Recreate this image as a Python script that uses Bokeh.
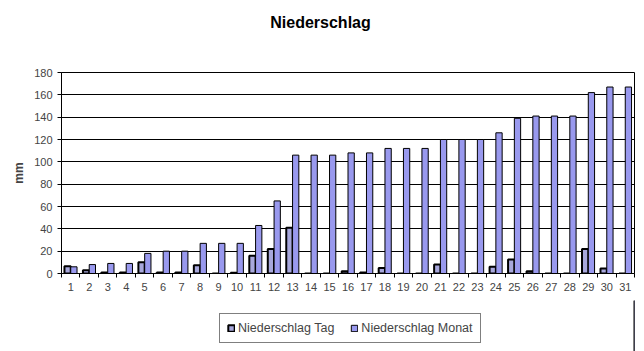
from bokeh.plotting import figure
from bokeh.models import (Range1d, FixedTicker, Legend, LegendItem, Label,
                          ColumnDataSource)
from bokeh.layouts import column
from bokeh.embed import file_html
from bokeh.resources import INLINE

days = list(range(1, 32))
tag = [6.5, 3, 1, 1, 10, 1, 1, 7.5, 0, 0.7, 16, 22, 41, 0, 0, 2, 1, 5, 0, 0,
       8, 0, 0, 6, 12.5, 2, 0, 0, 22, 4.5, 0]
monat = [6, 8, 9, 9, 18, 20, 20, 27, 27, 27, 43, 65, 106, 106, 106, 108, 108,
         112, 112, 112, 120, 120, 120, 126, 139, 141, 141, 141, 162, 167, 167]
y_ticks = [0, 20, 40, 60, 80, 100, 120, 140, 160, 180]
title_text = "Niederschlag"
y_label = "mm"
series_names = ["Niederschlag Tag", "Niederschlag Monat"]

FONT = "Liberation Sans"
W = 0.34
TAG_STYLE = dict(fill_color="#a8a8dc", line_color="black", line_width=2)
MON_STYLE = dict(fill_color="#9999ee", line_color="black", line_width=1)


def strip(h):
    f = figure(width=644, height=h, output_backend="svg", toolbar_location=None,
               x_range=Range1d(0, 1), y_range=Range1d(0, 1),
               x_axis_type=None, y_axis_type=None,
               min_border_left=61, min_border_right=10, min_border_top=0,
               min_border_bottom=0)
    f.outline_line_color = None
    f.xgrid.visible = False
    f.ygrid.visible = False
    return f


# title strip
t = strip(40)
t.add_layout(Label(x=259, y=18, x_units="screen", y_units="screen",
                   text=title_text, text_align="center", text_baseline="middle",
                   text_font=FONT, text_font_style="bold",
                   text_font_size="16px", text_color="black"))

src = ColumnDataSource(dict(
    xt=[d - W / 2 for d in days],
    xm=[d + W / 2 for d in days],
    tag=tag, monat=monat))

p = figure(width=644, height=260, output_backend="svg", toolbar_location=None,
           x_range=Range1d(0.5, 31.5), y_range=Range1d(0, 180),
           min_border_left=61, min_border_right=10, min_border_top=32,
           min_border_bottom=27)
p.outline_line_color = "black"
p.outline_line_width = 1
p.background_fill_color = "white"
p.border_fill_color = "white"

p.vbar(x="xt", top="tag", width=W, source=src, **TAG_STYLE)
p.vbar(x="xm", top="monat", width=W, source=src, **MON_STYLE)

p.xgrid.visible = False
p.ygrid.grid_line_color = "black"
p.ygrid.grid_line_width = 1
p.ygrid.ticker = FixedTicker(ticks=y_ticks)

p.xaxis.ticker = FixedTicker(ticks=days, minor_ticks=[d + 0.5 for d in range(0, 32)])
p.xaxis.major_tick_line_alpha = 0
p.xaxis.minor_tick_out = 4
p.xaxis.minor_tick_in = 0
p.xaxis.minor_tick_line_color = "black"
p.xaxis.axis_line_color = "black"
p.xaxis.major_label_text_font = FONT
p.xaxis.major_label_text_font_size = "11px"
p.xaxis.major_label_standoff = 3

p.yaxis.ticker = FixedTicker(ticks=y_ticks)
p.yaxis.minor_tick_line_alpha = 0
p.yaxis.major_tick_out = 4
p.yaxis.major_tick_in = 0
p.yaxis.major_tick_line_color = "black"
p.yaxis.axis_line_color = "black"
p.yaxis.major_label_text_font = FONT
p.yaxis.major_label_text_font_size = "11px"
p.yaxis.axis_label = y_label
p.yaxis.axis_label_text_font = FONT
p.yaxis.axis_label_text_font_style = "bold"
p.yaxis.axis_label_text_font_size = "12px"
p.yaxis.axis_label_standoff = 5

# legend strip
q = strip(51)
dummy = ColumnDataSource(dict(x=[5], top=[5]))
lt = q.vbar(x="x", top="top", width=0.1, source=dummy, **TAG_STYLE)
lm = q.vbar(x="x", top="top", width=0.1, source=dummy, **MON_STYLE)

legend = Legend(items=[LegendItem(label=series_names[0], renderers=[lt]),
                       LegendItem(label=series_names[1], renderers=[lm])],
                orientation="horizontal", location=(158, 8),
                border_line_color="black", border_line_width=1,
                label_text_font=FONT, label_text_font_size="12.5px",
                glyph_width=8, glyph_height=8, label_standoff=3, spacing=16,
                padding=7, margin=0, background_fill_alpha=1)
q.add_layout(legend, "center")

layout = column(t, p, q, spacing=0)
open("out.html", "w").write(file_html(layout, INLINE))
